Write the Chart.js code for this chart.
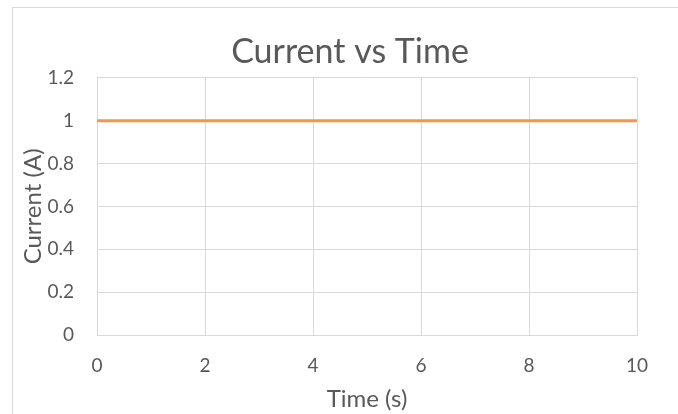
<!DOCTYPE html>
<html>
<head>
<meta charset="utf-8">
<script src="https://cdn.jsdelivr.net/npm/chart.js@4"></script>
<style>
  html, body { margin: 0; padding: 0; background: #fff; overflow: hidden; }
  #wrap { position: absolute; left: 0; top: 0; width: 678px; height: 414px; }
  #frame { position: absolute; left: 12px; top: 7px; width: 700px; height: 450px;
           border-left: 1px solid #d9d9d9; border-top: 1px solid #d9d9d9; box-sizing: border-box; }
  canvas { position: absolute; left: 0; top: 0; }
</style>
</head>
<body>
<div id="wrap">
  <div id="frame"></div>
  <canvas id="c" width="678" height="414"></canvas>
</div>
<script>
const chartTitle = "Current vs Time";
const xAxisTitle = "Time (s)";
const yAxisTitle = "Current (A)";
const seriesName = "Current";
const timeValues = [0, 2, 4, 6, 8, 10];
const currentValues = [1, 1, 1, 1, 1, 1];

const FONT = "Lato, 'Open Sans', sans-serif";
const GRAY = "#595959";
const GRID = "#d9d9d9";

const points = timeValues.map((t, i) => ({ x: t, y: currentValues[i] }));
const fmt = (v) => String(Math.round(v * 10) / 10);

new Chart(document.getElementById("c"), {
  type: "scatter",
  data: {
    datasets: [{
      label: seriesName,
      data: points,
      showLine: true,
      borderColor: "#F79646",
      backgroundColor: "#F79646",
      borderWidth: 3,
      pointRadius: 0,
      tension: 0,
      yAxisID: "y"
    }]
  },
  options: {
    responsive: false,
    animation: false,
    devicePixelRatio: 1,
    layout: { padding: { left: 22, right: 0, top: 0, bottom: 0 } },
    plugins: {
      legend: { display: false },
      tooltip: { enabled: false },
      title: {
        display: true,
        text: chartTitle,
        color: GRAY,
        font: { family: FONT, size: 34, weight: "normal", lineHeight: 1.2 },
        padding: { top: 32, bottom: 5 }
      }
    },
    scales: {
      x: {
        type: "linear",
        min: 0, max: 10,
        ticks: { stepSize: 2, color: GRAY, font: { family: FONT, size: 19 }, padding: 19, callback: fmt },
        grid: { color: GRID, drawTicks: false, lineWidth: 1 },
        border: { color: GRID },
        title: {
          display: true, text: xAxisTitle, color: GRAY,
          font: { family: FONT, size: 24, lineHeight: 1.2 }, padding: { top: 0, bottom: 0 }
        },
        afterFit: (s) => { s.height = 79; }
      },
      y: {
        type: "linear",
        position: "left",
        min: 0, max: 1.2,
        ticks: { stepSize: 0.2, color: GRAY, font: { family: FONT, size: 19 }, padding: 23, callback: fmt },
        grid: { color: GRID, drawTicks: false, lineWidth: 1 },
        border: { color: GRID },
        title: {
          display: true, text: yAxisTitle, color: GRAY,
          font: { family: FONT, size: 24, lineHeight: 0.9 }, padding: { top: 0, bottom: 0 }
        },
        afterFit: (s) => { s.width = 75; s.paddingTop = 0; s.paddingBottom = 0; }
      },
      yRight: {
        type: "linear",
        position: "right",
        display: true,
        ticks: { display: false },
        grid: { display: false, drawTicks: false },
        border: { display: false },
        afterFit: (s) => { s.width = 41; }
      }
    }
  }
});
</script>
</body>
</html>
